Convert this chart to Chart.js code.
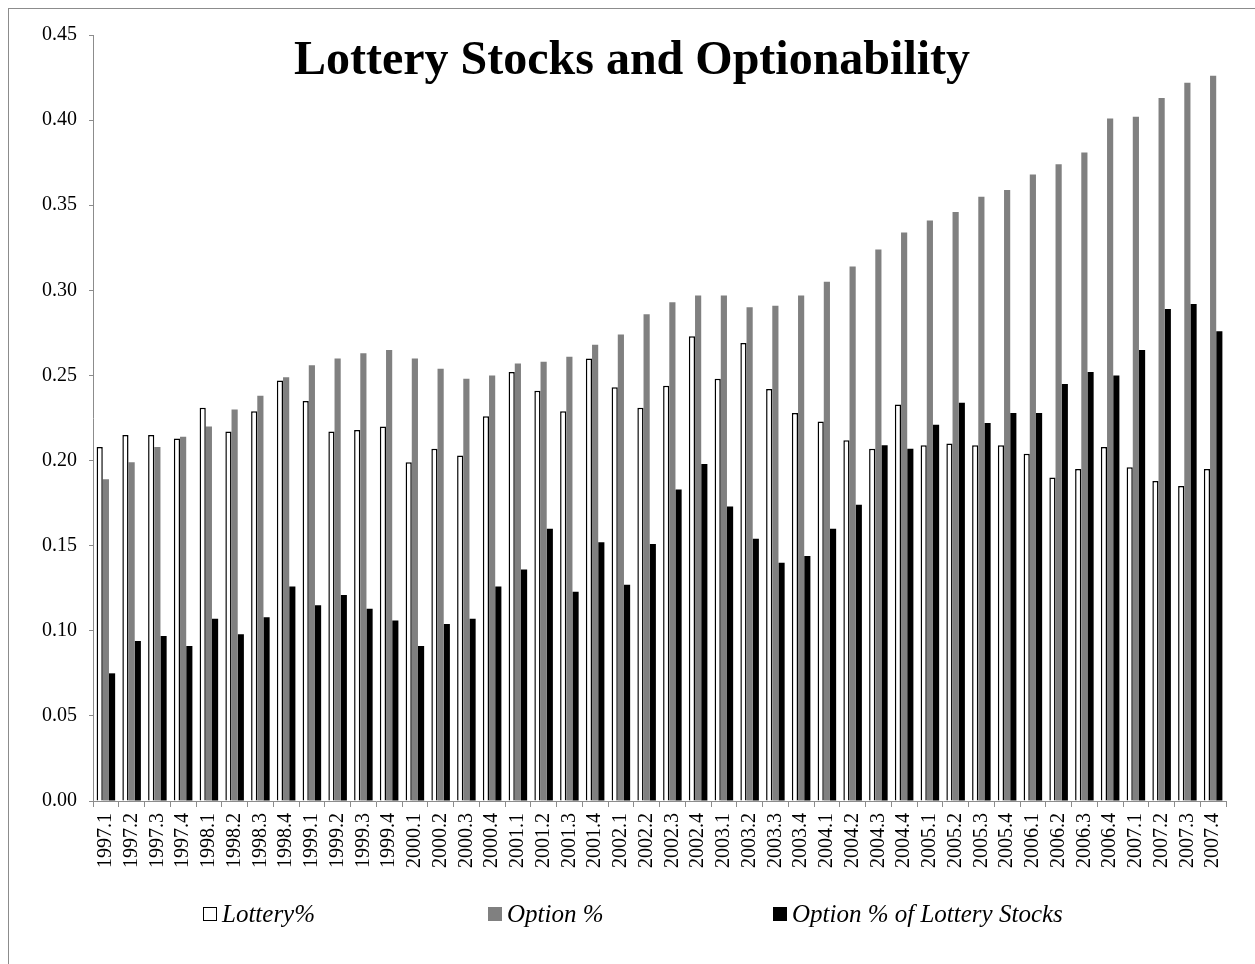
<!DOCTYPE html>
<html>
<head>
<meta charset="utf-8">
<script src="https://cdn.jsdelivr.net/npm/chart.js@4.4.0/dist/chart.umd.min.js"></script>
<style>
  html, body { margin: 0; padding: 0; background: #fff; }
  #wrap { width: 1255px; height: 964px; position: relative; }
</style>
</head>
<body>
<div id="wrap"><canvas id="lotteryChart" width="1255" height="964"></canvas></div>
<script>
// Quarters shown on the x axis
const quarters = [
    '1997.1', '1997.2', '1997.3', '1997.4', '1998.1', '1998.2', '1998.3', '1998.4',
    '1999.1', '1999.2', '1999.3', '1999.4', '2000.1', '2000.2', '2000.3', '2000.4',
    '2001.1', '2001.2', '2001.3', '2001.4', '2002.1', '2002.2', '2002.3', '2002.4',
    '2003.1', '2003.2', '2003.3', '2003.4', '2004.1', '2004.2', '2004.3', '2004.4',
    '2005.1', '2005.2', '2005.3', '2005.4', '2006.1', '2006.2', '2006.3', '2006.4',
    '2007.1', '2007.2', '2007.3', '2007.4'
];

// Values
const lotteryPct = [
    0.208, 0.215, 0.215, 0.213, 0.231, 0.217, 0.229, 0.247,
    0.235, 0.217, 0.218, 0.220, 0.199, 0.207, 0.203, 0.226,
    0.252, 0.241, 0.229, 0.260, 0.243, 0.231, 0.244, 0.273,
    0.248, 0.269, 0.242, 0.228, 0.223, 0.212, 0.207, 0.233,
    0.209, 0.210, 0.209, 0.209, 0.204, 0.190, 0.195, 0.208,
    0.196, 0.188, 0.185, 0.195
];
const optionPct = [
    0.189, 0.199, 0.208, 0.214, 0.220, 0.230, 0.238, 0.249,
    0.256, 0.260, 0.263, 0.265, 0.260, 0.254, 0.248, 0.250,
    0.257, 0.258, 0.261, 0.268, 0.274, 0.286, 0.293, 0.297,
    0.297, 0.290, 0.291, 0.297, 0.305, 0.314, 0.324, 0.334,
    0.341, 0.346, 0.355, 0.359, 0.368, 0.374, 0.381, 0.401,
    0.402, 0.413, 0.422, 0.426
];
const optionOfLottery = [
    0.075, 0.094, 0.097, 0.091, 0.107, 0.098, 0.108, 0.126,
    0.115, 0.121, 0.113, 0.106, 0.091, 0.104, 0.107, 0.126,
    0.136, 0.160, 0.123, 0.152, 0.127, 0.151, 0.183, 0.198,
    0.173, 0.154, 0.140, 0.144, 0.160, 0.174, 0.209, 0.207,
    0.221, 0.234, 0.222, 0.228, 0.228, 0.245, 0.252, 0.250,
    0.265, 0.289, 0.292, 0.276
];
const seriesNames = ['Lottery%', 'Option %', 'Option % of Lottery Stocks'];
const chartTitle = 'Lottery Stocks and Optionability';

const serif = "'Liberation Serif', 'Times New Roman', 'DejaVu Serif', serif";

// Title sits inside the plot area, legend drawn in wide Excel-like slots
const frameAndText = {
    id: 'frameAndText',
    beforeDraw(chart) {
        const ctx = chart.ctx;
        ctx.save();
        ctx.fillStyle = '#fff';
        ctx.fillRect(0, 0, chart.width, chart.height);
        ctx.strokeStyle = '#8c8c8c';
        ctx.lineWidth = 1;
        ctx.strokeRect(8.5, 8.5, chart.width + 20, chart.height + 20);
        ctx.restore();
    },
    afterDraw(chart) {
        const ctx = chart.ctx;
        ctx.save();
        ctx.fillStyle = '#000';
        ctx.font = 'bold 48px ' + serif;
        ctx.textAlign = 'center';
        ctx.textBaseline = 'alphabetic';
        ctx.fillText(chartTitle, 632, 74);

        const starts = [203, 488, 773];
        ctx.font = 'italic 25px ' + serif;
        ctx.textAlign = 'left';
        chart.data.datasets.forEach((ds, i) => {
            const x = starts[i];
            ctx.fillStyle = ds.backgroundColor;
            ctx.fillRect(x, 907, 14, 14);
            ctx.strokeStyle = '#000';
            ctx.lineWidth = 1;
            if (i === 0) ctx.strokeRect(x + 0.5, 907.5, 13, 13);
            ctx.fillStyle = '#000';
            ctx.fillText(ds.label, x + 19, 922);
        });
        ctx.restore();
    }
};

const ctx = document.getElementById('lotteryChart').getContext('2d');
new Chart(ctx, {
    type: 'bar',
    data: {
        labels: quarters,
        datasets: [{
            label: seriesNames[0],
            data: lotteryPct,
            backgroundColor: '#ffffff',
            borderColor: '#000000',
            borderWidth: 1.5
        }, {
            label: seriesNames[1],
            data: optionPct,
            backgroundColor: '#808080',
            borderWidth: 0
        }, {
            label: seriesNames[2],
            data: optionOfLottery,
            backgroundColor: '#000000',
            borderWidth: 0
        }]
    },
    options: {
        responsive: false,
        animation: false,
        devicePixelRatio: 1,
        datasets: {
            bar: { categoryPercentage: 0.72, barPercentage: 1.0 }
        },
        layout: { padding: { left: 0, top: 35, right: 29, bottom: 0 } },
        plugins: {
            legend: { display: false },
            title: { display: false },
            tooltip: { enabled: false }
        },
        scales: {
            x: {
                grid: {
                    display: true,
                    drawOnChartArea: false,
                    drawTicks: true,
                    tickLength: 6,
                    color: '#8c8c8c',
                    offset: true
                },
                border: { color: '#8c8c8c', width: 1 },
                ticks: {
                    color: '#000',
                    font: { family: serif, size: 20 },
                    minRotation: 90,
                    maxRotation: 90,
                    autoSkip: false,
                    padding: 6
                },
                afterFit(scale) { scale.height = 163; }
            },
            y: {
                min: 0,
                max: 0.45,
                grid: {
                    display: true,
                    drawOnChartArea: false,
                    drawTicks: true,
                    tickLength: 4,
                    color: '#8c8c8c'
                },
                border: { color: '#8c8c8c', width: 1 },
                ticks: {
                    stepSize: 0.05,
                    color: '#000',
                    font: { family: serif, size: 20 },
                    padding: 12,
                    callback: function(value) {
                        return value.toFixed(2);
                    }
                },
                afterFit(scale) { scale.width = 93; }
            }
        }
    },
    plugins: [frameAndText]
});
</script>
</body>
</html>
